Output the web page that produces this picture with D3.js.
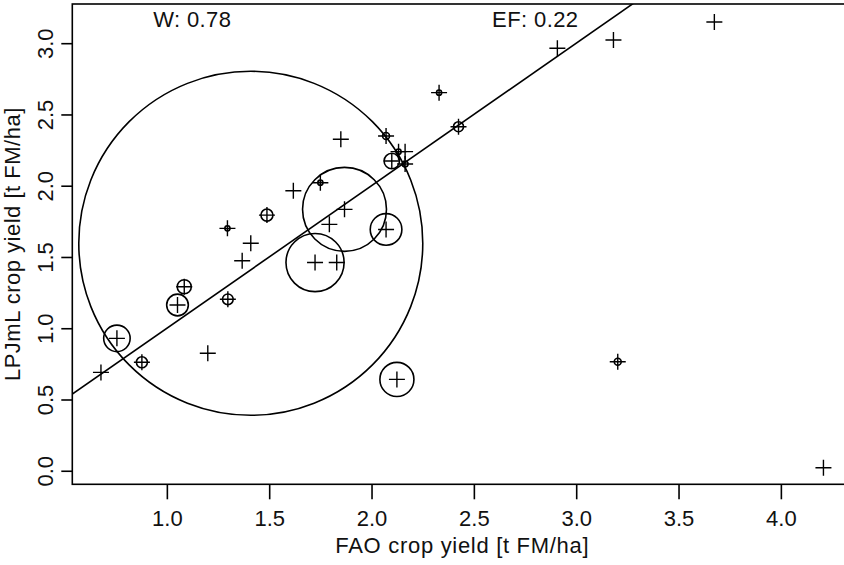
<!DOCTYPE html>
<html>
<head>
<meta charset="utf-8">
<script src="https://cdn.jsdelivr.net/npm/d3@7"></script>
<style>
  html, body { margin: 0; padding: 0; background: #fff; }
  svg { display: block; font-family: "Liberation Sans", Arial, Helvetica, sans-serif; }
</style>
</head>
<body>
<svg id="chart" width="844" height="565"></svg>
<script>
// ---- data ----
const faoYield = [0.678, 0.756, 0.878, 1.200, 1.052, 1.085, 1.298, 1.296, 1.489, 1.410,
                  1.368, 1.724, 1.830, 1.868, 1.794, 1.750, 1.618, 1.850, 2.071, 2.071,
                  2.099, 2.132, 2.164, 2.164, 2.330, 2.425, 2.908, 3.182, 3.675, 3.203,
                  4.208, 2.124];
const lpjmlYield = [0.690, 0.929, 0.761, 0.824, 1.163, 1.291, 1.203, 1.701, 1.794, 1.596,
                    1.474, 1.461, 1.461, 1.834, 1.729, 2.021, 1.965, 2.326, 1.693, 2.349,
                    2.173, 2.239, 2.239, 2.152, 2.653, 2.414, 2.964, 3.022, 3.149, 0.765,
                    0.021, 0.641];
// relative weight shown as circle radius (largest = 1)
const weight = [0, 0.077, 0.032, 0, 0.063, 0.041, 0.031, 0.015, 0.035, 1.0,
                0, 0.169, 0, 0.244, 0, 0.015, 0, 0, 0.092, 0.020,
                0.045, 0.015, 0, 0.017, 0.015, 0.029, 0, 0, 0, 0.020,
                0, 0.099];
const xTicks = [1.0, 1.5, 2.0, 2.5, 3.0, 3.5, 4.0];
const yTicks = [0.0, 0.5, 1.0, 1.5, 2.0, 2.5, 3.0];
const xLimits = [0.538, 4.349];
const yLimits = [-0.095, 3.275];
const ablineIntercept = 0, ablineSlope = 1;
const statLabels = [{text: "W: 0.78", x: 1.124, y: 3.17}, {text: "EF: 0.22", x: 2.80, y: 3.17}];
const xTitle = "FAO crop yield [t FM/ha]";
const yTitle = "LPJmL crop yield [t FM/ha]";

(function () {
// ---- layout ----
const svg = d3.select("#chart");
const pLeft = 72.3, pTop = 4, pRight = 852.3, pBottom = 484.3;
const x = d3.scaleLinear().domain(xLimits).range([pLeft, pRight]);
const y = d3.scaleLinear().domain(yLimits).range([pBottom, pTop]);
const r = d3.scaleLinear().domain([0, 1]).range([0, 172]);
const fontSize = 22;

svg.append("rect").attr("width", 844).attr("height", 565).attr("fill", "#fff");

svg.append("defs").append("clipPath").attr("id", "plotclip")
  .append("rect").attr("x", pLeft).attr("y", pTop).attr("width", pRight - pLeft).attr("height", pBottom - pTop);

const plot = svg.append("g").attr("clip-path", "url(#plotclip)");

// 1:1 line
const lineGen = d3.line().x(d => x(d[0])).y(d => y(d[1]));
plot.append("path")
  .attr("d", lineGen([[xLimits[0], ablineIntercept + ablineSlope * xLimits[0]],
                      [xLimits[1], ablineIntercept + ablineSlope * xLimits[1]]]))
  .attr("fill", "none").attr("stroke", "#000").attr("stroke-width", 1.6);

const pts = faoYield.map((v, i) => ({x: v, y: lpjmlYield[i], w: weight[i]}));

// circles
plot.selectAll("circle.w").data(pts.filter(d => d.w > 0)).join("circle")
  .attr("class", "w")
  .attr("cx", d => x(d.x)).attr("cy", d => y(d.y)).attr("r", d => r(d.w))
  .attr("fill", "none").attr("stroke", "#000").attr("stroke-width", 1.6);

// plus markers
plot.selectAll("path.pt").data(pts).join("path")
  .attr("class", "pt")
  .attr("transform", d => `translate(${x(d.x)},${y(d.y)})`)
  .attr("d", "M-8,0H8M0,-8V8")
  .attr("stroke", "#000").attr("stroke-width", 1.4).attr("fill", "none");

// frame
svg.append("rect").attr("x", pLeft).attr("y", pTop).attr("width", pRight - pLeft).attr("height", pBottom - pTop)
  .attr("fill", "none").attr("stroke", "#000").attr("stroke-width", 1.6);

// x axis
const xAxis = svg.append("g").attr("transform", `translate(0,${pBottom})`)
  .call(d3.axisBottom(x).tickValues(xTicks).tickFormat(d3.format(".1f")).tickSize(15).tickPadding(8));
xAxis.select(".domain").remove();
xAxis.selectAll(".tick line").attr("stroke", "#000").attr("stroke-width", 1.6);
xAxis.selectAll(".tick text").attr("font-size", fontSize).attr("fill", "#111")
  .attr("y", 0).attr("dy", 0).attr("transform", "translate(0,42)");

// y axis
const yAxis = svg.append("g").attr("transform", `translate(${pLeft},0)`)
  .call(d3.axisLeft(y).tickValues(yTicks).tickFormat(d3.format(".1f")).tickSize(11));
yAxis.select(".domain").remove();
yAxis.selectAll(".tick line").attr("stroke", "#000").attr("stroke-width", 1.6);
yAxis.selectAll(".tick text").attr("font-size", fontSize).attr("fill", "#111")
  .attr("transform", "rotate(-90)").attr("x", 0).attr("y", -19).attr("dy", 0)
  .attr("text-anchor", "middle");

// titles
svg.append("text").attr("x", (pLeft + pRight) / 2).attr("y", 553)
  .attr("text-anchor", "middle").attr("font-size", fontSize).attr("letter-spacing", 0.7)
  .attr("fill", "#111").text(xTitle);
svg.append("text").attr("transform", `translate(20,${(pTop + pBottom) / 2}) rotate(-90)`)
  .attr("text-anchor", "middle").attr("font-size", fontSize).attr("letter-spacing", 0.5)
  .attr("fill", "#111").text(yTitle);

// stats labels
svg.selectAll("text.stat").data(statLabels).join("text").attr("class", "stat")
  .attr("x", d => x(d.x)).attr("y", d => y(d.y) + 8)
  .attr("text-anchor", "middle").attr("font-size", fontSize).attr("letter-spacing", 0.4)
  .attr("fill", "#111").text(d => d.text);
})();
</script>
</body>
</html>
